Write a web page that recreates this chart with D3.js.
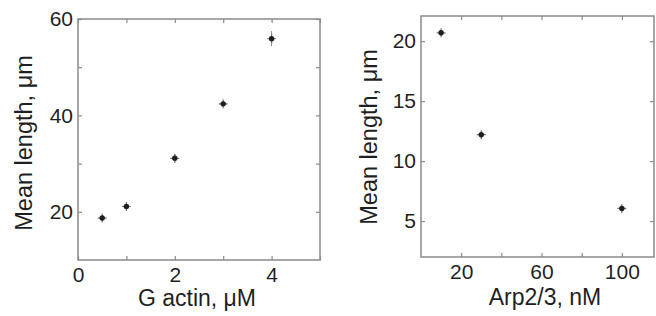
<!DOCTYPE html>
<html>
<head>
<meta charset="utf-8">
<script src="https://cdn.jsdelivr.net/npm/d3@7"></script>
<style>
  body { margin: 0; background: #fff; }
  svg { display: block; }
  text { font-family: "Liberation Sans", Arial, sans-serif; fill: #1f1f1f; }
</style>
</head>
<body>
<svg></svg>
<script>
let width = 656, height = 316;

// left panel: mean length vs G actin
let actinConc = [0.5, 1, 2, 3, 4];
let actinLength = [18.7, 21.1, 31.1, 42.4, 55.9];
let actinErr = [0.4, 0.4, 0.9, 0.6, 1.6];
let actinXTicks = [0, 1, 2, 3, 4, 5];
let actinXLabels = [0, 2, 4];
let actinYTicks = [20, 30, 40, 50, 60];
let actinYLabels = [20, 40, 60];

// right panel: mean length vs Arp2/3
let arpConc = [10, 30, 100];
let arpLength = [20.7, 12.2, 6.05];
let arpErr = [0.25, 0.25, 0.25];
let arpXTicks = [20, 40, 60, 80, 100];
let arpXLabels = [20, 60, 100];
let arpYTicks = [5, 10, 15, 20];

let svg = d3.select("svg")
    .attr("width", width)
    .attr("height", height);

let frameColor = "#8a8a8a";

function panel(opts) {
    let x = d3.scaleLinear().domain(opts.xDomain).range(opts.xRange);
    let y = d3.scaleLinear().domain(opts.yDomain).range(opts.yRange);
    let g = svg.append("g");

    g.append("rect")
        .attr("x", opts.xRange[0])
        .attr("y", opts.yRange[1])
        .attr("width", opts.xRange[1] - opts.xRange[0])
        .attr("height", opts.yRange[0] - opts.yRange[1])
        .attr("fill", "none")
        .attr("stroke", frameColor)
        .attr("stroke-width", 1.5);

    let fmtX = d => opts.xLabels.includes(d) ? d : "";
    let fmtY = d => opts.yLabels.includes(d) ? d : "";

    let axes = [
        [d3.axisBottom(x).tickValues(opts.xTicks).tickFormat(fmtX).tickSizeInner(-4).tickSizeOuter(0).tickPadding(7),
            "translate(0," + opts.yRange[0] + ")"],
        [d3.axisTop(x).tickValues(opts.xTicks).tickFormat("").tickSizeInner(-4).tickSizeOuter(0),
            "translate(0," + opts.yRange[1] + ")"],
        [d3.axisLeft(y).tickValues(opts.yTicks).tickFormat(fmtY).tickSizeInner(-4).tickSizeOuter(0).tickPadding(5),
            "translate(" + opts.xRange[0] + ",0)"],
        [d3.axisRight(y).tickValues(opts.yTicks).tickFormat("").tickSizeInner(-4).tickSizeOuter(0),
            "translate(" + opts.xRange[1] + ",0)"]
    ];
    axes.forEach(a => {
        let ax = g.append("g").attr("transform", a[1]).call(a[0]);
        ax.select(".domain").remove();
        ax.selectAll("line").attr("stroke", frameColor).attr("stroke-width", 1.2);
        ax.selectAll("text")
            .attr("font-size", 21)
            .attr("font-family", "Liberation Sans, Arial, sans-serif")
            .attr("fill", "#1f1f1f");
        // drop the empty labels of minor ticks
        ax.selectAll("text").filter(function() { return this.textContent === ""; }).remove();
    });

    let pts = opts.xs.map((d, i) => ({x: d, y: opts.ys[i], e: opts.errs[i]}));

    // error bars
    g.append("g").selectAll("line")
        .data(pts)
        .enter()
        .append("line")
        .attr("x1", d => x(d.x))
        .attr("x2", d => x(d.x))
        .attr("y1", d => y(d.y - d.e))
        .attr("y2", d => y(d.y + d.e))
        .attr("stroke", "#888")
        .attr("stroke-width", 1);

    // soft cross behind each dot
    g.append("g").selectAll("path")
        .data(pts)
        .enter()
        .append("path")
        .attr("transform", d => "translate(" + x(d.x) + "," + y(d.y) + ")")
        .attr("d", "M-4.5,0H4.5M0,-4.5V4.5")
        .attr("stroke", "#777")
        .attr("stroke-width", 1.2);

    g.append("g").selectAll("circle")
        .data(pts)
        .enter()
        .append("circle")
        .attr("cx", d => x(d.x))
        .attr("cy", d => y(d.y))
        .attr("r", 2.7)
        .attr("fill", "#1e1e1e");

    g.append("text")
        .attr("transform", "translate(" + opts.xTitlePos[0] + "," + opts.xTitlePos[1] + ")")
        .attr("text-anchor", "middle")
        .attr("font-size", 23)
        .text(opts.xTitle);

    g.append("text")
        .attr("transform", "translate(" + opts.yTitlePos[0] + "," + opts.yTitlePos[1] + ") rotate(-90)")
        .attr("text-anchor", "middle")
        .attr("font-size", 23.5)
        .text(opts.yTitle);
}

panel({
    xDomain: [0, 5], xRange: [78, 320],
    yDomain: [10, 60], yRange: [260, 19],
    xTicks: actinXTicks, xLabels: actinXLabels,
    yTicks: actinYTicks, yLabels: actinYLabels,
    xs: actinConc, ys: actinLength, errs: actinErr,
    xTitle: "G actin, μM", xTitlePos: [197, 305.5],
    yTitle: "Mean length, μm", yTitlePos: [32, 143]
});

panel({
    xDomain: [0, 116], xRange: [421, 654],
    yDomain: [2, 22.1], yRange: [257, 16],
    xTicks: arpXTicks, xLabels: arpXLabels,
    yTicks: arpYTicks, yLabels: arpYTicks,
    xs: arpConc, ys: arpLength, errs: arpErr,
    xTitle: "Arp2/3, nM", xTitlePos: [545, 305],
    yTitle: "Mean length, μm", yTitlePos: [377, 137]
});
</script>
</body>
</html>
